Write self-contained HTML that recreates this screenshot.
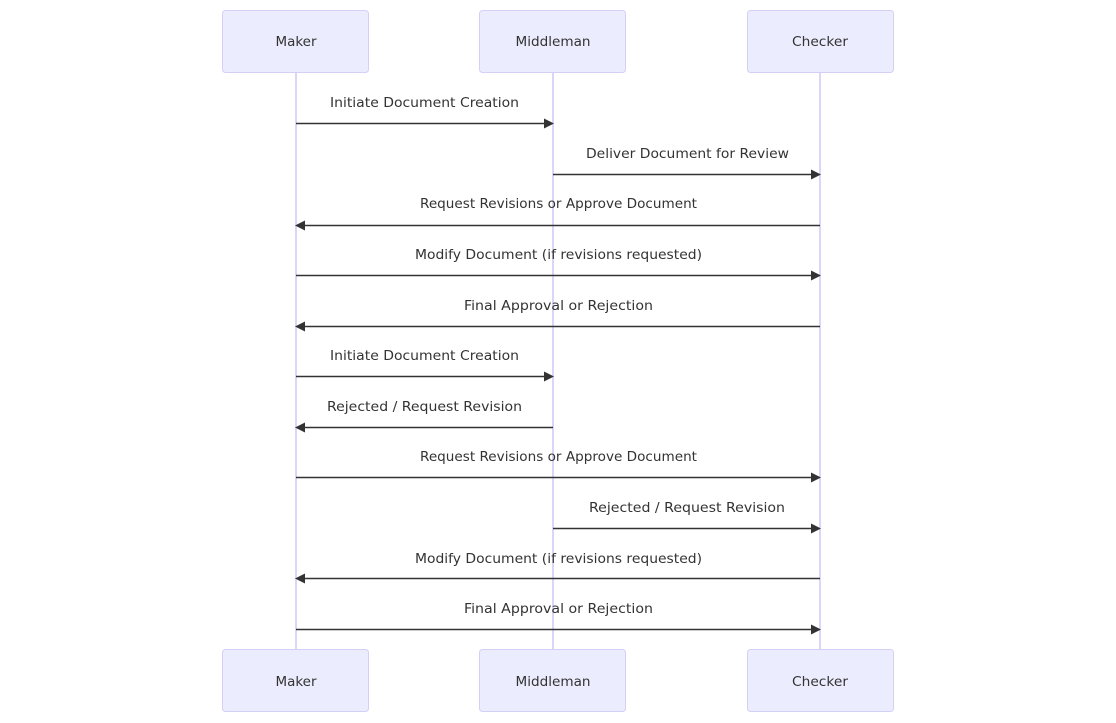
<!DOCTYPE html>
<html><head><meta charset="utf-8"><style>
html,body{margin:0;padding:0;background:#fff;}
svg{display:block}
text{font-family:"DejaVu Sans","Liberation Sans",sans-serif;font-size:13.5px;fill:#333;}
</style></head><body>
<svg width="1116" height="723" viewBox="0 0 1116 723" xmlns="http://www.w3.org/2000/svg">
<g stroke="#ddd5f7" stroke-width="2">
<line x1="296" y1="73" x2="296" y2="649"/>
<line x1="553" y1="73" x2="553" y2="649"/>
<line x1="820" y1="73" x2="820" y2="649"/>
</g>
<g fill="#ececff" stroke="#d4cff5" stroke-width="1">
<rect x="222.5" y="10.5" width="146" height="62" rx="3"/>
<rect x="479.5" y="10.5" width="146" height="62" rx="3"/>
<rect x="747.5" y="10.5" width="146" height="62" rx="3"/>
<rect x="222.5" y="649.5" width="146" height="62" rx="3"/>
<rect x="479.5" y="649.5" width="146" height="62" rx="3"/>
<rect x="747.5" y="649.5" width="146" height="62" rx="3"/>
</g>
<g text-anchor="middle" fill="#222">
<text x="296" y="46" textLength="41" lengthAdjust="spacingAndGlyphs">Maker</text>
<text x="553" y="46" textLength="75" lengthAdjust="spacingAndGlyphs">Middleman</text>
<text x="820" y="46" textLength="56" lengthAdjust="spacingAndGlyphs">Checker</text>
<text x="296" y="686" textLength="41" lengthAdjust="spacingAndGlyphs">Maker</text>
<text x="553" y="686" textLength="75" lengthAdjust="spacingAndGlyphs">Middleman</text>
<text x="820" y="686" textLength="56" lengthAdjust="spacingAndGlyphs">Checker</text>
</g>
<g stroke="#333" stroke-width="1.5">
<line x1="296" y1="123.5" x2="545" y2="123.5"/>
<line x1="553" y1="174.5" x2="812" y2="174.5"/>
<line x1="304" y1="225.5" x2="820" y2="225.5"/>
<line x1="296" y1="275.5" x2="812" y2="275.5"/>
<line x1="304" y1="326.5" x2="820" y2="326.5"/>
<line x1="296" y1="376.5" x2="545" y2="376.5"/>
<line x1="304" y1="427.5" x2="553" y2="427.5"/>
<line x1="296" y1="477.5" x2="812" y2="477.5"/>
<line x1="553" y1="528.5" x2="812" y2="528.5"/>
<line x1="304" y1="578.5" x2="820" y2="578.5"/>
<line x1="296" y1="629.5" x2="812" y2="629.5"/>
</g>
<g fill="#333">
<polygon points="544,118.5 554,123.5 544,128.5"/>
<polygon points="811,169.5 821,174.5 811,179.5"/>
<polygon points="305,220.5 295,225.5 305,230.5"/>
<polygon points="811,270.5 821,275.5 811,280.5"/>
<polygon points="305,321.5 295,326.5 305,331.5"/>
<polygon points="544,371.5 554,376.5 544,381.5"/>
<polygon points="305,422.5 295,427.5 305,432.5"/>
<polygon points="811,472.5 821,477.5 811,482.5"/>
<polygon points="811,523.5 821,528.5 811,533.5"/>
<polygon points="305,573.5 295,578.5 305,583.5"/>
<polygon points="811,624.5 821,629.5 811,634.5"/>
</g>
<g text-anchor="middle">
<text x="424.5" y="107" textLength="189" lengthAdjust="spacingAndGlyphs">Initiate Document Creation</text>
<text x="687.5" y="158" textLength="203" lengthAdjust="spacingAndGlyphs">Deliver Document for Review</text>
<text x="558.5" y="208" textLength="277" lengthAdjust="spacingAndGlyphs">Request Revisions or Approve Document</text>
<text x="558.5" y="259" textLength="287" lengthAdjust="spacingAndGlyphs">Modify Document (if revisions requested)</text>
<text x="558.5" y="310" textLength="189" lengthAdjust="spacingAndGlyphs">Final Approval or Rejection</text>
<text x="424.5" y="360" textLength="189" lengthAdjust="spacingAndGlyphs">Initiate Document Creation</text>
<text x="424.5" y="411" textLength="195" lengthAdjust="spacingAndGlyphs">Rejected / Request Revision</text>
<text x="558.5" y="461" textLength="277" lengthAdjust="spacingAndGlyphs">Request Revisions or Approve Document</text>
<text x="687" y="512" textLength="196" lengthAdjust="spacingAndGlyphs">Rejected / Request Revision</text>
<text x="558.5" y="563" textLength="287" lengthAdjust="spacingAndGlyphs">Modify Document (if revisions requested)</text>
<text x="558.5" y="613" textLength="189" lengthAdjust="spacingAndGlyphs">Final Approval or Rejection</text>
</g>
</svg>
</body></html>
